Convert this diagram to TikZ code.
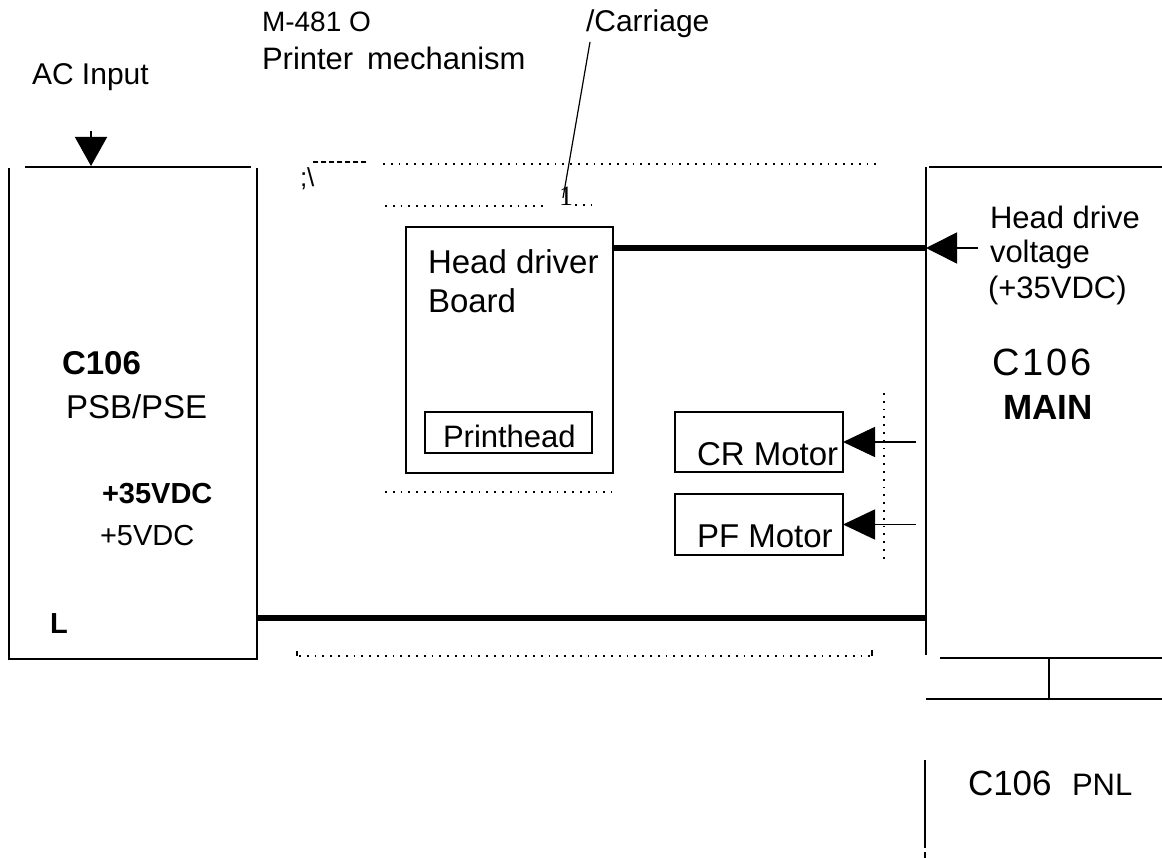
\documentclass[tikz,border=0pt]{standalone}
\usepackage{fontspec}
\setmainfont{Liberation Sans}
\newfontfamily\serifx{Liberation Serif}
\usetikzlibrary{arrows.meta}
\begin{document}
\begin{tikzpicture}[x=1pt,y=-1pt,
  every node/.style={inner sep=0pt, outer sep=0pt},
  txt/.style={anchor=base west},
  ln/.style={line width=1.6pt},
  thinln/.style={line width=1.2pt},
  bus/.style={line width=6pt},
  dotl/.style={line width=2.2pt, dash pattern=on 1.8pt off 6pt},
  dashl/.style={line width=2pt, dash pattern=on 5pt off 3pt},
  boxx/.style={draw, line width=1.6pt, rectangle},
  fa/.style={font=\fontsize{26}{30}\selectfont},
  fb/.style={font=\fontsize{28}{33}\selectfont},
  fc/.style={font=\fontsize{29}{34}\selectfont},
  fd/.style={font=\fontsize{31}{36}\selectfont},
  fe/.style={font=\fontsize{33}{38}\selectfont},
  ff/.style={font=\fontsize{35}{40}\selectfont},
  fg/.style={font=\fontsize{38}{44}\selectfont},
  fh/.style={font=\fontsize{30}{35}\selectfont}
]
\useasboundingbox (0,0) rectangle (1162,858);
\fill[white] (0,0) rectangle (1162,858);

% top labels
\node[txt,fh] (acin) at (32,85) {AC Input};
\node[txt,fb] (m481) at (262,32) {M-481 O};
\node[txt,fd] (pmech) at (262,70) {Printer \,mechanism};
\node[txt,fh] (carr) at (586,32) {/Carriage};

% AC input arrow
\coordinate (actail) at (91,131);
\coordinate (actip) at (91,166);
\draw[line width=1.6pt, -{Triangle[length=29pt,width=32pt]}] (actail) -- (actip);

% left power supply box
\draw[ln] (25,167) -- (251,167);
\draw[ln] (9,168) -- (9,659);
\draw[ln] (257,168) -- (257,659);
\draw[ln] (8,659) -- (258,659);
\node[txt,fe] (l1) at (62,375) {\bfseries C106};
\node[txt,fe] (l2) at (66,419) {PSB/PSE};
\node[txt,fc] (l3) at (102,503) {\bfseries +35VDC};
\node[txt,fc] (l4) at (100,545) {+5VDC};
\node[txt,fc] (l5) at (50,633) {\bfseries L};

% printer mechanism outline marks
\node[txt,fa] (semi) at (300,187) {;\textbackslash};
\draw[dashl] (313,162) -- (368,162);
\draw[dotl] (383,164) -- (880,164);
\draw[dotl] (385,206) -- (543,206);
\node[txt,fb] (one) at (559,206) {\serifx 1};
\draw[dotl] (575,205) -- (598,205);
\coordinate (carrtop) at (590,42);
\coordinate (carrbot) at (563,198);
\draw[thinln] (carrtop) -- (carrbot);

% head driver board
\node[boxx, minimum width=207pt, minimum height=246pt] (headbox) at (509.5,350) {};
\node[txt,fe] (hd1) at (428,274) {Head driver};
\node[txt,fe] (hd2) at (428,313) {Board};
\node[boxx, minimum width=167pt, minimum height=41pt] (phead) at (508.5,432.5) {};
\node[txt,fd] (phtxt) at (443,447) {Printhead};
\draw[dotl] (385,492) -- (612,492);

% motors
\node[boxx, minimum width=168pt, minimum height=60pt] (crm) at (759,442) {};
\node[txt,fe] (crtxt) at (697,465) {CR Motor};
\node[boxx, minimum width=168pt, minimum height=61pt] (pfm) at (759,524.5) {};
\node[txt,fe] (pftxt) at (697,547) {PF Motor};
\coordinate (crtail) at (916,442);
\coordinate (pftail) at (916,524.5);
\draw[line width=1.6pt, -{Triangle[length=32pt,width=30pt]}] (crtail) -- (crm.east);
\draw[line width=1.6pt, -{Triangle[length=32pt,width=30pt]}] (pftail) -- (pfm.east);
\draw[dotl] (884,393) -- (884,560);

% main box
\draw[ln] (926,167) -- (926,655);
\draw[ln] (929,167) -- (1162,167);
\coordinate (hdtip) at (926,248);
\coordinate (hdtail) at (978,248);
\draw[bus] (headbox.east |- hdtip) -- (hdtip);
\draw[line width=1.6pt, -{Triangle[length=31pt,width=31pt]}] (hdtail) -- (hdtip);
\node[txt,fd] (r1) at (990,229) {Head drive};
\node[txt,fd] (r2) at (990,263) {voltage};
\node[txt,fd] (r3) at (988,299) {(+35VDC)};
\node[txt,fg] (r4) at (992,376) {C\kern3pt 1\kern3pt 0\kern3pt 6};
\node[txt,ff] (r5) at (1003,420) {\bfseries MAIN};

% bottom bus and mechanism bottom
\coordinate (psuR) at (257,618);
\coordinate (mainL) at (926,618);
\draw[bus] (psuR) -- (mainL);
\draw[dotl] (299,656) -- (870,656);
\draw[thinln] (297,651) -- (297,656);
\draw[thinln] (872,650) -- (872,656);

% panel connection
\draw[ln] (940,658) -- (1162,658);
\draw[thinln] (1049,658) -- (1049,699);
\draw[ln] (926,699) -- (1162,699);
\draw[ln] (925,760) -- (925,848);
\draw[ln] (925,852) -- (925,858);
\node[txt,ff] (p1) at (968,795) {C106};
\node[txt,fd] (p2) at (1072,795) {PNL};
\end{tikzpicture}
\end{document}
